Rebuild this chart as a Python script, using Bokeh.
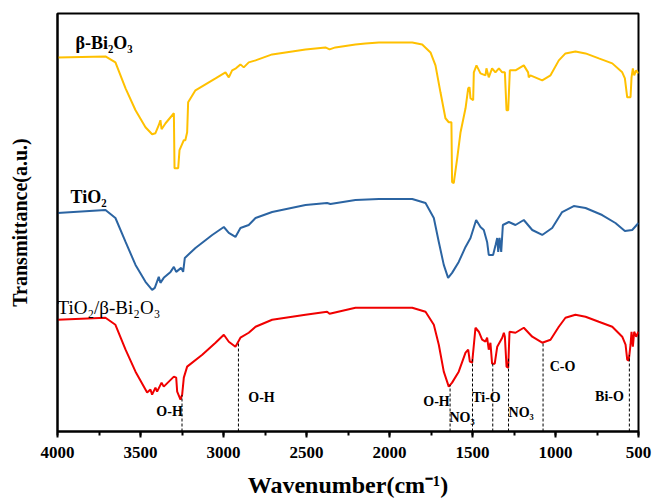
import numpy as np
from bokeh.plotting import figure
from bokeh.models import Range1d, FixedTicker, Label
from bokeh.embed import file_html
from bokeh.resources import INLINE

# FTIR spectra (wavenumber in cm^-1, transmittance in arbitrary units, curves offset)
bi2o3_wn = [4000, 3711, 3651, 3590, 3530, 3470, 3430, 3410, 3390, 3380,
            3373, 3349, 3299, 3295, 3273, 3265, 3239, 3230, 3219, 3213,
            3169, 3048, 2988, 2968, 2948, 2925, 2898, 2878, 2848, 2807,
            2707, 2506, 2386, 2361, 2326, 2205, 2145, 2064, 1863, 1803,
            1753, 1723, 1693, 1663, 1643, 1627, 1623, 1613, 1592, 1572,
            1542, 1526, 1518, 1512, 1496, 1492, 1476, 1452, 1422, 1416,
            1402, 1382, 1362, 1341, 1321, 1305, 1295, 1285, 1275, 1241,
            1191, 1165, 1161, 1151, 1080, 1030, 980, 940, 880, 819,
            739, 658, 598, 582, 568, 548, 542, 534, 526, 514,
            500]
bi2o3_t = [375, 376, 370, 344, 322, 305, 298, 299, 307, 312,
           303, 309, 319, 264, 264, 282, 292, 292, 300, 330,
           342, 354, 360, 355, 362, 364, 368, 365, 370, 372,
           378, 383, 385, 383, 385, 388, 389, 390, 390, 388,
           380, 367, 340, 314, 310, 310, 250, 249, 274, 300,
           324, 344, 345, 334, 332, 360, 367, 359, 357, 364,
           355, 364, 360, 364, 360, 360, 322, 322, 362, 362,
           367, 360, 355, 357, 352, 357, 372, 379, 381, 379,
           374, 369, 360, 354, 335, 335, 355, 364, 357, 362,
           359]

tio2_wn = [4000, 3711, 3651, 3590, 3530, 3470, 3430, 3414, 3390, 3380,
           3360, 3319, 3299, 3285, 3255, 3243, 3233, 3169, 3068, 2998,
           2968, 2928, 2898, 2848, 2807, 2707, 2506, 2376, 2356, 2205,
           2064, 1863, 1783, 1733, 1703, 1673, 1647, 1623, 1583, 1542,
           1512, 1478, 1452, 1432, 1412, 1402, 1376, 1361, 1351, 1345,
           1337, 1327, 1317, 1281, 1241, 1191, 1140, 1080, 1020, 960,
           890, 819, 719, 639, 582, 538, 500]
tio2_t = [219, 222, 214, 190, 167, 150, 142, 144, 155, 149,
          154, 160, 165, 160, 164, 160, 174, 184, 197, 205,
          199, 195, 204, 207, 214, 220, 227, 229, 228, 232,
          233, 233, 229, 214, 190, 167, 154, 159, 170, 185,
          194, 212, 205, 202, 190, 177, 177, 187, 194, 180,
          194, 180, 207, 210, 207, 212, 202, 197, 204, 220,
          226, 224, 217, 209, 201, 202, 209]

comp_wn = [4000, 3711, 3651, 3590, 3530, 3460, 3440, 3430, 3410, 3400,
           3373, 3360, 3299, 3285, 3279, 3259, 3249, 3239, 3219, 3128,
           3048, 2998, 2968, 2928, 2898, 2848, 2807, 2707, 2506, 2376,
           2361, 2205, 2145, 1863, 1783, 1733, 1703, 1673, 1643, 1623,
           1583, 1542, 1526, 1516, 1502, 1482, 1462, 1442, 1422, 1412,
           1402, 1392, 1382, 1366, 1351, 1321, 1311, 1305, 1295, 1285,
           1277, 1241, 1191, 1140, 1080, 1030, 980, 940, 880, 819,
           739, 658, 598, 578, 568, 559, 548, 542, 534, 526,
           514, 500]
comp_t = [112, 114, 107, 82, 60, 39, 42, 37, 44, 40,
          49, 45, 55, 54, 40, 32, 37, 54, 65, 77,
          89, 97, 90, 85, 94, 99, 105, 112, 117, 120,
          118, 124, 124, 124, 120, 107, 87, 60, 45, 49,
          60, 79, 82, 70, 69, 104, 100, 92, 90, 94,
          82, 89, 68, 68, 85, 94, 99, 95, 65, 64,
          100, 99, 104, 95, 89, 92, 105, 114, 117, 115,
          110, 105, 95, 87, 72, 71, 87, 100, 85, 100,
          95, 100]

# band assignments marked on the composite spectrum
band_wn = [3250, 2910, 1635, 1500, 1378, 1283, 1075, 555]
band_names = ["O-H", "O-H", "O-H", "NO₃", "Ti-O", "NO₃", "C-O", "Bi-O"]

x_ticks = [4000, 3500, 3000, 2500, 2000, 1500, 1000, 500]

SERIF = "Liberation Serif"

p = figure(width=653, height=500, output_backend="svg", toolbar_location=None,
           x_range=Range1d(4000, 500), y_range=Range1d(0, 419),
           min_border_left=57, min_border_right=15, min_border_top=13,
           min_border_bottom=68)
p.grid.visible = False
p.background_fill_color = "white"
p.border_fill_color = "white"
p.outline_line_color = "black"
p.outline_line_width = 2
p.outline_line_alpha = 1

# x axis
xa = p.xaxis[0]
xa.ticker = FixedTicker(ticks=x_ticks, minor_ticks=list(range(4000, 499, -250)))
xa.axis_line_width = 2
xa.major_tick_line_width = 2
xa.minor_tick_line_width = 2
xa.major_tick_in = 0
xa.major_tick_out = 6
xa.minor_tick_in = 0
xa.minor_tick_out = 4
xa.major_label_text_font = SERIF
xa.major_label_text_font_style = "bold"
xa.major_label_text_font_size = "17px"
xa.major_label_text_color = "black"
xa.major_label_standoff = 9
xa.axis_label = "Wavenumber(cm⁻¹)"
xa.axis_label_text_font = SERIF
xa.axis_label_text_font_style = "bold"
xa.axis_label_text_font_size = "24px"
xa.axis_label_text_color = "black"
xa.axis_label_standoff = 11

# y axis: label only
ya = p.yaxis[0]
ya.ticker = FixedTicker(ticks=[])
ya.axis_line_width = 2
ya.major_tick_line_color = None
ya.minor_tick_line_color = None
ya.axis_label = "Transmittance(a.u.)"
ya.axis_label_text_font = SERIF
ya.axis_label_text_font_style = "bold"
ya.axis_label_text_font_size = "20px"
ya.axis_label_text_color = "black"
ya.axis_label_standoff = 27

# spectra
p.line(bi2o3_wn, bi2o3_t, line_color="#FFC000", line_width=2)
p.line(tio2_wn, tio2_t, line_color="#2B64A2", line_width=2)
p.line(comp_wn, comp_t, line_color="#F00000", line_width=2)

# dashed guides from the composite curve down to the axis
band_y = np.interp(band_wn, comp_wn[::-1], comp_t[::-1])
p.segment(x0=band_wn, y0=[0] * len(band_wn), x1=band_wn, y1=band_y,
          line_color="black", line_dash="3 2", line_width=1)

# series names
for txt, x, y, style, size in [("β-Bi₂O₃", 3892, 389, "bold", "18px"),
                               ("TiO₂", 3922, 235, "bold", "18px"),
                               ("TiO₂/β-Bi₂O₃", 4000, 124, "normal", "19px")]:
    p.add_layout(Label(x=x, y=y, text=txt, text_font=SERIF, text_font_style=style,
                       text_font_size=size, text_color="black",
                       text_baseline="alphabetic", text_align="left"))

# band labels
band_pos = [(3325, 20, "center"), (2771, 34, "center"), (1717, 30, "center"),
            (1639, 14, "left"), (1416, 34, "center"), (1283, 19, "left"),
            (958, 65, "center"), (675, 35, "center")]
for name, (x, y, al) in zip(band_names, band_pos):
    p.add_layout(Label(x=x, y=y, text=name, text_font=SERIF, text_font_style="bold",
                       text_font_size="14px", text_color="black",
                       text_baseline="middle", text_align=al))

open("out.html", "w").write(file_html(p, INLINE))
